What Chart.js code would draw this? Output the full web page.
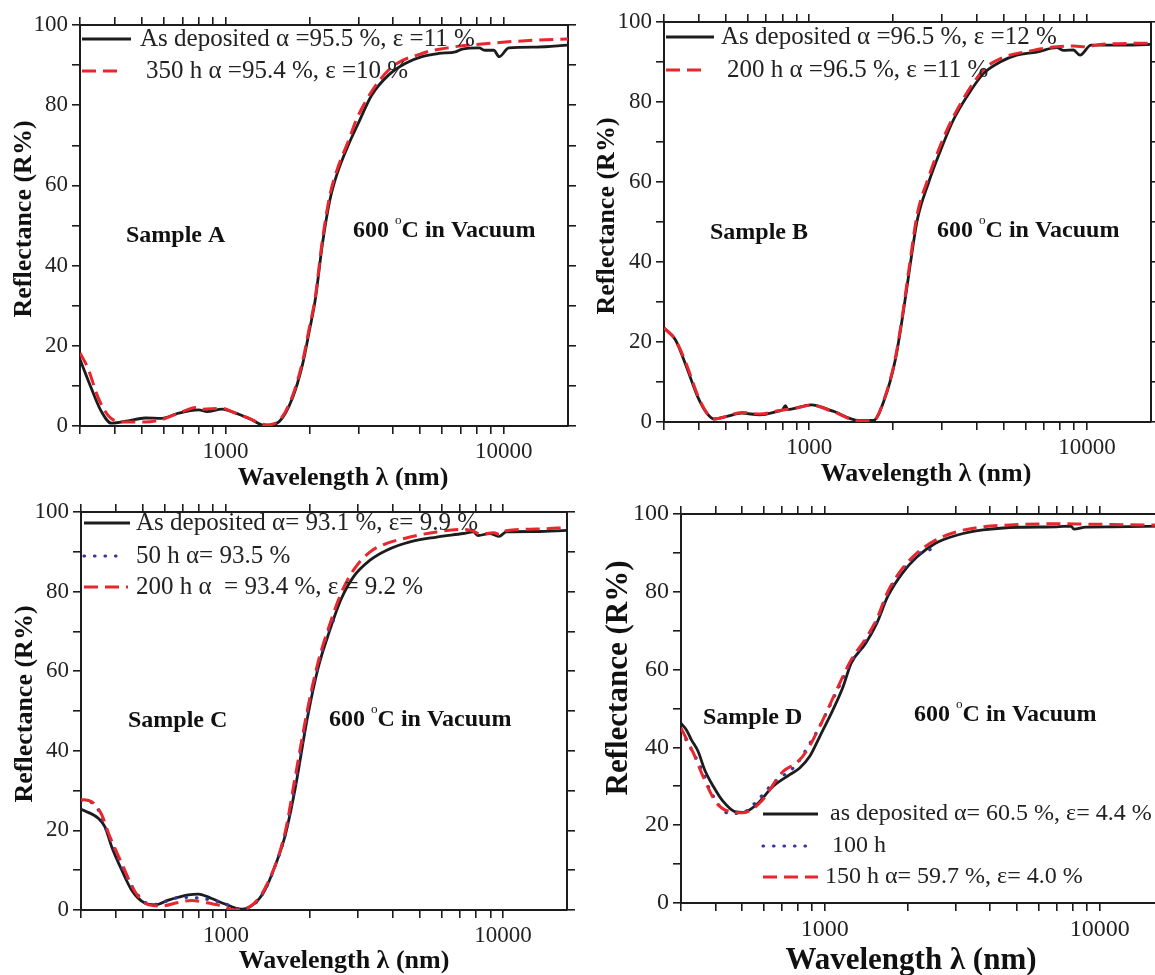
<!DOCTYPE html>
<html>
<head>
<meta charset="utf-8">
<script src="https://cdn.jsdelivr.net/npm/chart.js@4.4.1/dist/chart.umd.min.js"></script>
<style>
  html, body { margin: 0; padding: 0; background: #fff; width: 1155px; height: 975px; overflow: hidden; }
  canvas { position: absolute; }
</style>
</head>
<body>
<canvas id="chartA" style="left:0;top:0" width="580" height="490"></canvas>
<canvas id="chartB" style="left:580px;top:0" width="575" height="490"></canvas>
<canvas id="chartC" style="left:0;top:490px" width="580" height="485"></canvas>
<canvas id="chartD" style="left:580px;top:490px" width="600" height="485"></canvas>
<script>
// tick values (nm) and reflectance ticks
const xTicks = [300, 400, 500, 600, 700, 800, 900, 1000, 2000, 3000, 4000, 5000, 6000, 7000, 8000, 9000, 10000];
const xLabels = [1000, 10000];
const yLabels = [0, 20, 40, 60, 80, 100];

// Sample A
const waveA_dep = [300, 329, 358, 389, 447, 514, 590, 678, 801, 858, 972, 1087, 1214, 1395, 1558, 1740, 1890, 2000, 2100, 2230, 2370, 2520, 2760, 3000, 3350, 3850, 4420, 5080, 5840, 6700, 7080, 8150, 8530, 9200, 9620, 10420, 13100, 17000];
const reflA_dep = [16.6, 9.5, 3.6, 0.7, 1.3, 2.0, 1.9, 3.2, 4.0, 3.6, 4.2, 3.2, 1.9, 0.1, 1.1, 7, 15.3, 23.7, 31.4, 45.5, 56.3, 63, 70, 75.5, 82.5, 87.5, 90.4, 92.1, 92.9, 93.3, 94, 94.3, 93.7, 93.7, 92.1, 94.3, 94.5, 95];
const waveA_350 = [300, 320, 349, 380, 423, 514, 590, 678, 790, 820, 972, 1087, 1214, 1400, 1565, 1740, 1890, 2000, 2100, 2230, 2370, 2520, 2760, 3000, 3846, 5078, 6700, 8150, 9900, 12800, 17000];
const reflA_350 = [18.2, 14.5, 7, 2.5, 1.0, 1.0, 1.6, 3.2, 4.6, 4.2, 4.4, 3.2, 1.9, 0.3, 1.5, 7.5, 16, 24.5, 32, 46.5, 57.5, 64, 71, 77.5, 88.7, 92.9, 94.6, 95.2, 95.7, 96.2, 96.5];

// Sample B
const waveB_dep = [300, 330, 361, 396, 428, 454, 505, 570, 664, 773, 800, 821, 836, 1015, 1218, 1507, 1701, 1864, 2042, 2169, 2305, 2449, 2685, 2940, 3303, 3690, 4236, 4864, 5585, 6590, 7780, 8240, 8930, 9440, 10340, 12720, 17000];
const reflB_dep = [23.5, 20.5, 13.9, 6.4, 2.2, 0.75, 1.4, 2.2, 1.8, 2.7, 3.0, 4.1, 3.1, 4.3, 2.7, 0.4, 0.4, 5.6, 15.6, 26.4, 38.9, 50.5, 59.7, 67.1, 75.5, 81.3, 87.1, 90, 91.7, 92.5, 93.6, 92.9, 93.0, 91.7, 94.2, 94.2, 94.4];
const waveB_200 = [300, 330, 361, 396, 428, 454, 505, 570, 664, 773, 900, 1015, 1218, 1507, 1701, 1864, 2042, 2169, 2305, 2449, 2685, 2940, 3303, 4236, 4864, 6400, 7780, 8930, 9960, 11100, 17000];
const reflB_200 = [23.5, 20.5, 14.5, 6.8, 2.2, 0.75, 1.4, 2.4, 2.0, 2.8, 3.5, 4.2, 2.6, 0.3, 0.3, 5.8, 16, 27, 40, 52, 61, 68.5, 76.3, 88, 90.8, 92.9, 93.8, 94, 93.8, 94.4, 94.7];

// Sample C
const waveC_dep = [300, 347, 366, 387, 421, 457, 511, 555, 620, 732, 795, 888, 992, 1138, 1272, 1382, 1501, 1631, 1773, 1964, 2154, 2362, 2600, 2884, 3312, 3802, 4613, 5754, 7178, 7800, 8130, 8950, 9700, 10260, 13160, 17000];
const reflC_dep = [25.3, 23.0, 20.9, 15.9, 10.0, 5.0, 1.7, 1.3, 2.5, 3.8, 4.0, 2.9, 1.5, 0.2, 1.7, 5.0, 10.9, 18.4, 30.1, 48, 61, 70, 78, 83.7, 87.9, 90.4, 92.5, 93.7, 94.6, 95, 94.1, 94.6, 93.9, 95, 95.1, 95.4];
const waveC_50 = [300, 337, 377, 444, 540, 692, 800, 964, 1138, 1272, 1382, 1501, 1631, 1773, 1964, 2154, 2362, 2500];
const reflC_50 = [27.6, 26.4, 18.8, 7.5, 1.3, 3.2, 3.0, 1.9, 0.2, 1.6, 5.0, 10.8, 18.6, 31, 49, 61.5, 70.7, 74];
const waveC_200 = [300, 328, 356, 377, 421, 470, 527, 586, 673, 752, 840, 932, 1078, 1203, 1382, 1631, 1773, 1964, 2154, 2362, 2600, 2884, 3312, 3802, 4613, 5754, 7178, 7800, 8260, 9250, 9700, 10260, 13160, 17000];
const reflC_200 = [27.8, 27.2, 24.0, 19.3, 11.7, 4.6, 1.3, 1.0, 1.9, 2.4, 1.9, 1.3, 0, 0.6, 5.4, 19.2, 33, 50, 62.5, 71.5, 79.5, 85.4, 90, 92.1, 93.7, 95, 95.6, 95.2, 94.4, 94.8, 94.3, 95.3, 95.7, 96.1];

// Sample D
const waveD_dep = [300, 314, 327, 346, 366, 393, 427, 471, 505, 565, 649, 746, 811, 882, 959, 1072, 1166, 1247, 1410, 1546, 1695, 1917, 2168, 2529, 3041, 3767, 5117, 6960, 7870, 8060, 8892, 11040, 17000];
const reflD_dep = [46.2, 44.5, 42, 39, 34.2, 30, 26.1, 23.5, 23.3, 25.3, 30, 33, 34.7, 37.7, 42.8, 49.7, 55.6, 61.6, 66.8, 71.9, 78.8, 84.8, 89, 92.5, 94.6, 95.9, 96.6, 96.7, 96.9, 96.1, 96.6, 96.7, 96.9];
const waveD_100 = [300, 314, 361, 382, 451, 505, 580, 649, 789, 882, 940, 1134, 1247, 1410, 1546, 1695, 1917, 2168, 2450];
const reflD_100 = [44.5, 41.8, 33.6, 29.1, 23, 23.3, 27, 30.8, 35.6, 41, 44.3, 56, 62, 67.5, 72.5, 79.5, 85.5, 89.5, 91];
const waveD_150 = [300, 333, 361, 404, 451, 505, 580, 705, 789, 858, 959, 1134, 1247, 1410, 1546, 1695, 1917, 2168, 2529, 3041, 3767, 5117, 6960, 8892, 11040, 17000];
const reflD_150 = [45, 38.5, 32.5, 25.7, 23.5, 23.2, 25.7, 33.8, 36, 39, 45.4, 56.5, 62.5, 68, 73, 80, 86, 90, 93.3, 95.5, 96.7, 97.3, 97.5, 97.4, 97.3, 97.1];

const SERIF = '"Liberation Serif", "Times New Roman", serif';
const INK = '#1c1c1c';
const RED = '#e8262d';
const BLUE = '#34349a';

const pts = (xs, ys) => xs.map((x, i) => ({ x: x, y: ys[i] }));

function solid(label, xs, ys) {
  return { label, data: pts(xs, ys), borderColor: INK, borderWidth: 2.8, order: 2 };
}
function dashed(label, xs, ys) {
  return { label, data: pts(xs, ys), borderColor: RED, borderWidth: 3, borderDash: [14, 7], order: 0 };
}
function dotted(label, xs, ys) {
  return { label, data: pts(xs, ys), borderColor: BLUE, borderWidth: 3.2, borderDash: [0.5, 10], borderCapStyle: 'round', order: 1 };
}

// legend, annotations and axis titles
const panelText = {
  id: 'panelText',
  afterDraw(chart, args, o) {
    const ctx = chart.ctx;
    ctx.save();
    ctx.textBaseline = 'middle';
    ctx.textAlign = 'left';
    o.legend.forEach(item => {
      const ds = chart.data.datasets[item.index];
      ctx.strokeStyle = ds.borderColor;
      ctx.lineWidth = ds.borderWidth;
      ctx.lineCap = ds.borderCapStyle || 'butt';
      ctx.setLineDash(ds.borderDash || []);
      ctx.beginPath();
      ctx.moveTo(item.x0, item.y);
      ctx.lineTo(item.x1, item.y);
      ctx.stroke();
      ctx.setLineDash([]);
      ctx.fillStyle = '#222';
      ctx.font = o.legendSize + 'px ' + SERIF;
      ctx.fillText(ds.label, item.tx, item.y);
    });

    ctx.fillStyle = '#111';
    ctx.font = 'bold ' + o.noteSize + 'px ' + SERIF;
    ctx.fillText(o.sample.text, o.sample.x, o.sample.y);

    // 600 °C in Vacuum, with a raised small o
    let x = o.temp.x;
    const y = o.temp.y;
    ctx.fillText('600 ', x, y);
    x += ctx.measureText('600 ').width;
    ctx.font = (o.noteSize * 0.55) + 'px ' + SERIF;
    ctx.fillText('o', x, y - o.noteSize * 0.42);
    x += ctx.measureText('o').width;
    ctx.font = 'bold ' + o.noteSize + 'px ' + SERIF;
    ctx.fillText('C in Vacuum', x, y);

    ctx.font = 'bold ' + o.titleSize + 'px ' + SERIF;
    ctx.textAlign = 'center';
    ctx.fillText('Wavelength λ (nm)', o.xTitle[0], o.xTitle[1]);
    ctx.translate(o.yTitle[0], o.yTitle[1]);
    ctx.rotate(-Math.PI / 2);
    ctx.fillText('Reflectance (R%)', 0, 0);
    ctx.restore();
  }
};

function makePanel(id, g, datasets, text) {
  const tickFont = { family: SERIF, size: g.tick };
  const grid = { display: true, drawOnChartArea: false, drawTicks: true, tickLength: 8, color: INK, lineWidth: 1.6 };
  const border = { display: true, color: INK, width: 2 };
  return new Chart(document.getElementById(id), {
    type: 'line',
    data: { datasets },
    plugins: [panelText],
    options: {
      responsive: false,
      animation: false,
      devicePixelRatio: 1,
      layout: { padding: 0 },
      elements: { point: { radius: 0 }, line: { cubicInterpolationMode: 'monotone', fill: false } },
      plugins: { legend: { display: false }, tooltip: { enabled: false }, panelText: text },
      scales: {
        x: {
          type: 'logarithmic', position: 'bottom', min: 300, max: 17000,
          grid, border,
          ticks: { font: tickFont, color: '#222', padding: 4, autoSkip: false, maxRotation: 0,
            callback: v => xLabels.includes(v) ? String(v) : '' },
          afterBuildTicks: s => { s.ticks = xTicks.map(v => ({ value: v })); },
          afterFit: s => { s.height = g.bottom; }
        },
        x2: {
          type: 'logarithmic', position: 'top', min: 300, max: 17000,
          grid, border, ticks: { display: false },
          afterBuildTicks: s => { s.ticks = xTicks.map(v => ({ value: v })); },
          afterFit: s => { s.height = g.top; }
        },
        y: {
          type: 'linear', position: 'left', min: 0, max: 100,
          grid, border,
          ticks: { stepSize: 10, font: tickFont, color: '#222', padding: 4,
            callback: v => yLabels.includes(v) ? String(v) : '' },
          afterFit: s => { s.width = g.left; }
        },
        y2: {
          type: 'linear', position: 'right', min: 0, max: 100,
          grid, border, ticks: { display: false, stepSize: 10 },
          afterFit: s => { s.width = g.right; }
        }
      }
    }
  });
}

makePanel('chartA', { left: 80, right: 12, top: 25, bottom: 64, tick: 23 }, [
  solid('As deposited α =95.5 %, ε =11 %', waveA_dep, reflA_dep),
  dashed('350 h α =95.4 %, ε =10 %', waveA_350, reflA_350)
], {
  legendSize: 25, noteSize: 24, titleSize: 26,
  legend: [
    { index: 0, x0: 82, x1: 131, y: 39, tx: 140 },
    { index: 1, x0: 82, x1: 122, y: 71, tx: 146 }
  ],
  sample: { text: 'Sample A', x: 126, y: 236 },
  temp: { x: 353, y: 231 },
  xTitle: [343, 478], yTitle: [24, 219]
});

makePanel('chartB', { left: 84, right: 4, top: 22, bottom: 68, tick: 23 }, [
  solid('As deposited α =96.5 %, ε =12 %', waveB_dep, reflB_dep),
  dashed('200 h α =96.5 %, ε =11 %', waveB_200, reflB_200)
], {
  legendSize: 25, noteSize: 24, titleSize: 26,
  legend: [
    { index: 0, x0: 86, x1: 134, y: 37, tx: 141 },
    { index: 1, x0: 86, x1: 125, y: 70, tx: 147 }
  ],
  sample: { text: 'Sample B', x: 130, y: 233 },
  temp: { x: 357, y: 231 },
  xTitle: [346, 474], yTitle: [27, 216]
});

makePanel('chartC', { left: 81, right: 13, top: 22, bottom: 65, tick: 23 }, [
  solid('As deposited α= 93.1 %, ε= 9.9 %', waveC_dep, reflC_dep),
  dotted('50 h α= 93.5 %', waveC_50, reflC_50),
  dashed('200 h α  = 93.4 %, ε = 9.2 %', waveC_200, reflC_200)
], {
  legendSize: 25, noteSize: 24, titleSize: 26,
  legend: [
    { index: 0, x0: 84, x1: 130, y: 33, tx: 136 },
    { index: 1, x0: 84, x1: 118, y: 66, tx: 136 },
    { index: 2, x0: 84, x1: 128, y: 97, tx: 136 }
  ],
  sample: { text: 'Sample C', x: 128, y: 231 },
  temp: { x: 329, y: 230 },
  xTitle: [344, 471], yTitle: [25, 214]
});

makePanel('chartD', { left: 101, right: 17, top: 24, bottom: 72, tick: 24 }, [
  solid('as deposited α= 60.5 %, ε= 4.4 %', waveD_dep, reflD_dep),
  dotted('100 h', waveD_100, reflD_100),
  dashed('150 h α= 59.7 %, ε= 4.0 %', waveD_150, reflD_150)
], {
  legendSize: 24, noteSize: 24, titleSize: 31,
  legend: [
    { index: 0, x0: 183, x1: 238, y: 324, tx: 250 },
    { index: 1, x0: 183, x1: 233, y: 356, tx: 252 },
    { index: 2, x0: 183, x1: 238, y: 387, tx: 245 }
  ],
  sample: { text: 'Sample D', x: 123, y: 228 },
  temp: { x: 334, y: 225 },
  xTitle: [331, 471], yTitle: [39, 188]
});
</script>
</body>
</html>
